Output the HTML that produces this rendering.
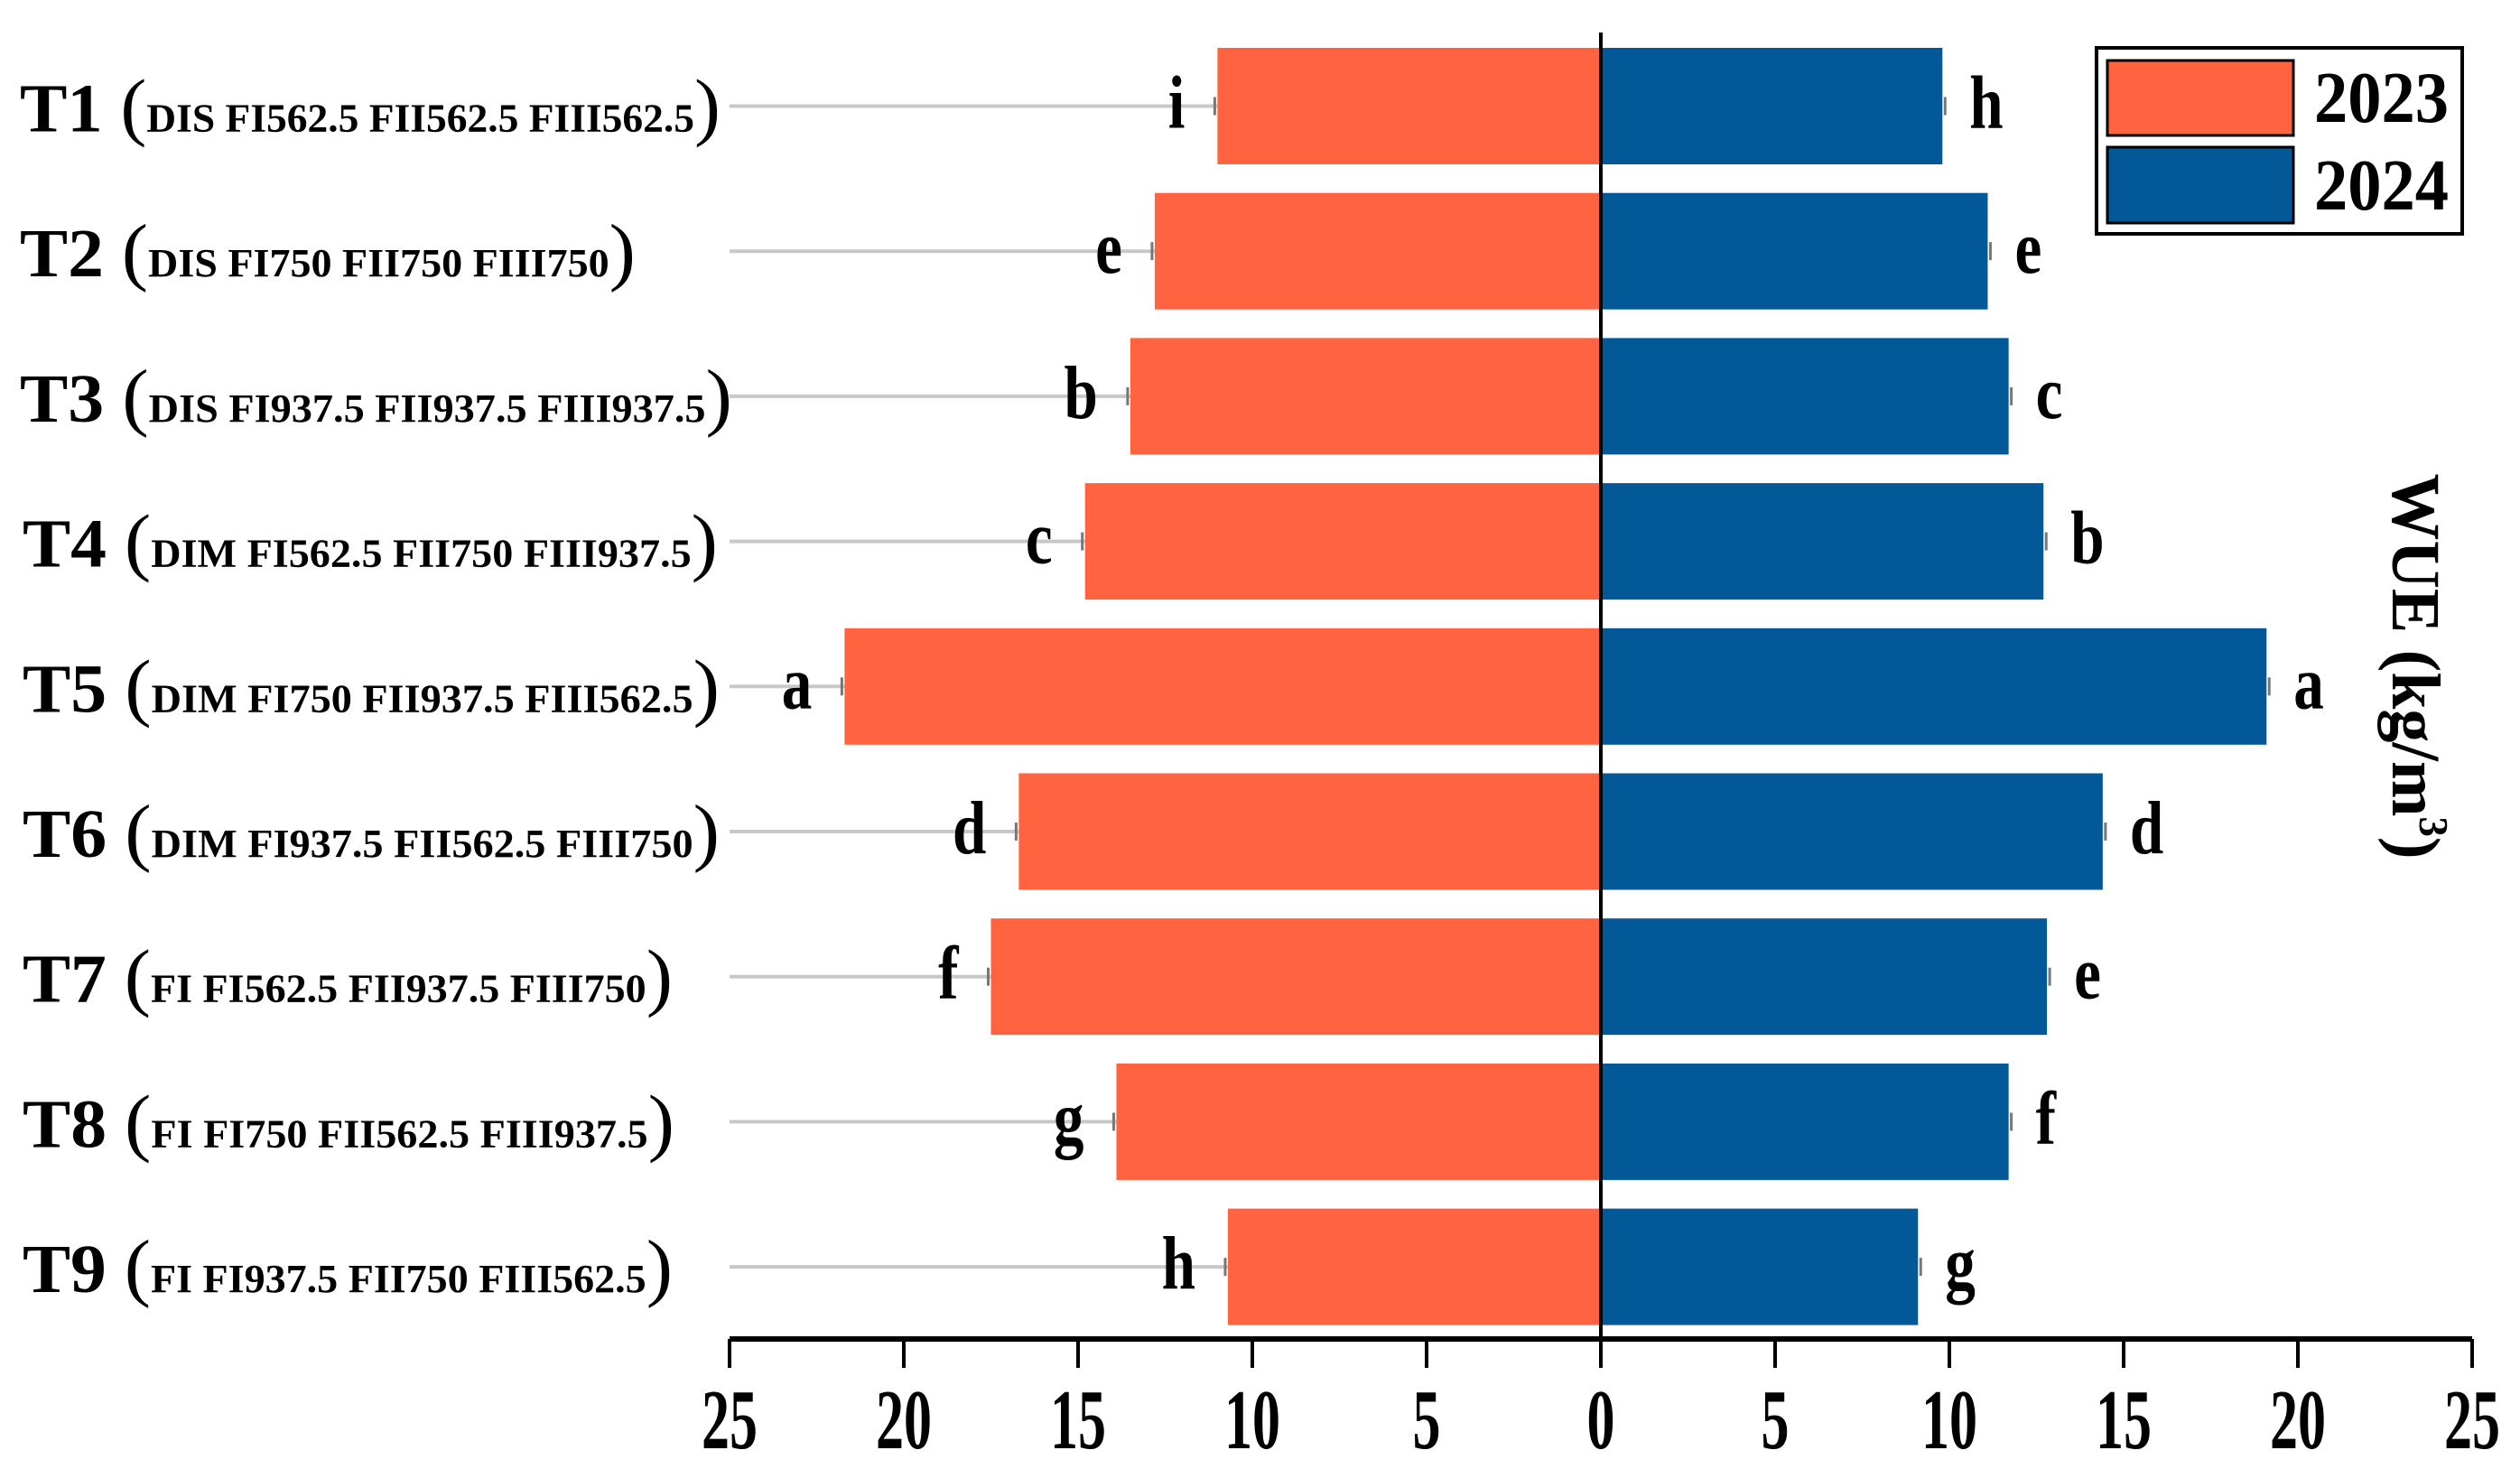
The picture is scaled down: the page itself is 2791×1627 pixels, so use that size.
<!DOCTYPE html>
<html><head><meta charset="utf-8"><style>
html,body{margin:0;padding:0;background:#fff;}
svg{display:block;font-family:"Liberation Serif",serif;font-weight:bold;}
</style></head><body>
<svg id="chart" width="2791" height="1627" viewBox="0 0 2791 1627">
<g id="gridlines"></g>
<g id="bars"></g>
<g id="labels"></g>
<g id="axis"></g>
<g>
<rect x="2322" y="53" width="405" height="206" fill="#fff" stroke="#000" stroke-width="4"/>
<rect x="2334" y="67" width="206" height="83" fill="#FF6340" stroke="#000" stroke-width="3"/>
<rect x="2334" y="163" width="206" height="84" fill="#035997" stroke="#000" stroke-width="3"/>
<text x="2563" y="135" font-size="80" textLength="149" lengthAdjust="spacingAndGlyphs">2023</text>
<text x="2563" y="232" font-size="80" textLength="149" lengthAdjust="spacingAndGlyphs">2024</text>
</g>
<text transform="translate(2650,738) rotate(90)" text-anchor="middle" font-size="76" textLength="427" lengthAdjust="spacingAndGlyphs">WUE (kg/m<tspan font-size="46" dy="-30">3</tspan><tspan dy="30">)</tspan></text>
</svg>
<script>
const categories = ["T1","T2","T3","T4","T5","T6","T7","T8","T9"];
const treatments = ["DIS FI562.5 FII562.5 FIII562.5","DIS FI750 FII750 FIII750","DIS FI937.5 FII937.5 FIII937.5","DIM FI562.5 FII750 FIII937.5","DIM FI750 FII937.5 FIII562.5","DIM FI937.5 FII562.5 FIII750","FI FI562.5 FII937.5 FIII750","FI FI750 FII562.5 FIII937.5","FI FI937.5 FII750 FIII562.5"];
const values2023 = [11.0,12.8,13.5,14.8,21.7,16.7,17.5,13.9,10.7];
const values2024 = [9.8,11.1,11.7,12.7,19.1,14.4,12.8,11.7,9.1];
const letters2023 = ["i","e","b","c","a","d","f","g","h"];
const letters2024 = ["h","e","c","b","a","d","e","f","g"];
const tickValues = [25,20,15,10,5,0,5,10,15,20,25];
const labelWidths = [776,682,789,770,772,772,720,722,720];

const NS="http://www.w3.org/2000/svg";
const x0=1773, unit=(2738-808)/50, axisL=808, axisR=2738;
const yTop=117.5, step=160.7, barH=129, axisY=1483;
const xL=v=>x0-v*unit, xR=v=>x0+v*unit, yC=i=>yTop+i*step;
function mk(tag,attrs,parent){const e=document.createElementNS(NS,tag);for(const k in attrs)e.setAttribute(k,attrs[k]);parent.appendChild(e);return e;}
const gG=document.getElementById('gridlines'),gB=document.getElementById('bars'),gL=document.getElementById('labels'),gA=document.getElementById('axis');

categories.forEach((c,i)=>{
  const y=yC(i);
  const ln=mk('line',{x1:axisL,x2:xL(values2023[i]),y1:y,y2:y,stroke:'#c8c8c8','stroke-width':4},gG);
  
  
  const b1=mk('rect',{x:xL(values2023[i]),y:y-barH/2,width:values2023[i]*unit,height:barH,fill:'#FF6340'},gB);
  
  
  const b2=mk('rect',{x:x0,y:y-barH/2,width:values2024[i]*unit,height:barH,fill:'#035997'},gB);
  
  
  const e1=mk('line',{x1:xL(values2023[i])-3,x2:xL(values2023[i])-3,y1:y-10,y2:y+10,stroke:'#777','stroke-width':3},gB);
  
  
  const e2=mk('line',{x1:xR(values2024[i])+3,x2:xR(values2024[i])+3,y1:y-10,y2:y+10,stroke:'#777','stroke-width':3},gB);
  
  
  const t1=mk('text',{transform:`translate(${xL(values2023[i])-36},${y+24}) scale(0.8,1)`,'text-anchor':'end','font-size':84},gL);
  t1.textContent=letters2023[i];
  
  
  const t2=mk('text',{transform:`translate(${xR(values2024[i])+30},${y+24}) scale(0.8,1)`,'font-size':84},gL);
  t2.textContent=letters2024[i];
  
  
  const lab=mk('text',{x:i<3?22:25,y:y+28,'font-size':76,textLength:labelWidths[i],lengthAdjust:'spacingAndGlyphs'},gL);
  
  
  const s1=mk('tspan',{},lab);s1.textContent=c+' ';
  const s2=mk('tspan',{'font-size':84,'font-weight':'normal'},lab);s2.textContent='(';
  const s3=mk('tspan',{'font-size':44},lab);s3.textContent=treatments[i];
  const s4=mk('tspan',{'font-size':84,'font-weight':'normal'},lab);s4.textContent=')';
});

const zl=mk('line',{x1:x0,x2:x0,y1:36,y2:axisY,stroke:'#000','stroke-width':4},gA);


const al=mk('line',{x1:axisL,x2:axisR,y1:axisY,y2:axisY,stroke:'#000','stroke-width':6},gA);


tickValues.forEach((v,k)=>{
  const x=k<5?xL(v):xR(v);
  const t=mk('line',{x1:x,x2:x,y1:axisY,y2:1515,stroke:'#000','stroke-width':4},gA);
  
  
  const s=String(v);
  const tx=mk('text',{x:x,y:1604,'text-anchor':'middle','font-size':94,textLength:s.length*31,lengthAdjust:'spacingAndGlyphs'},gA);
  tx.textContent=s;
  
  
});
</script>
</body></html>
